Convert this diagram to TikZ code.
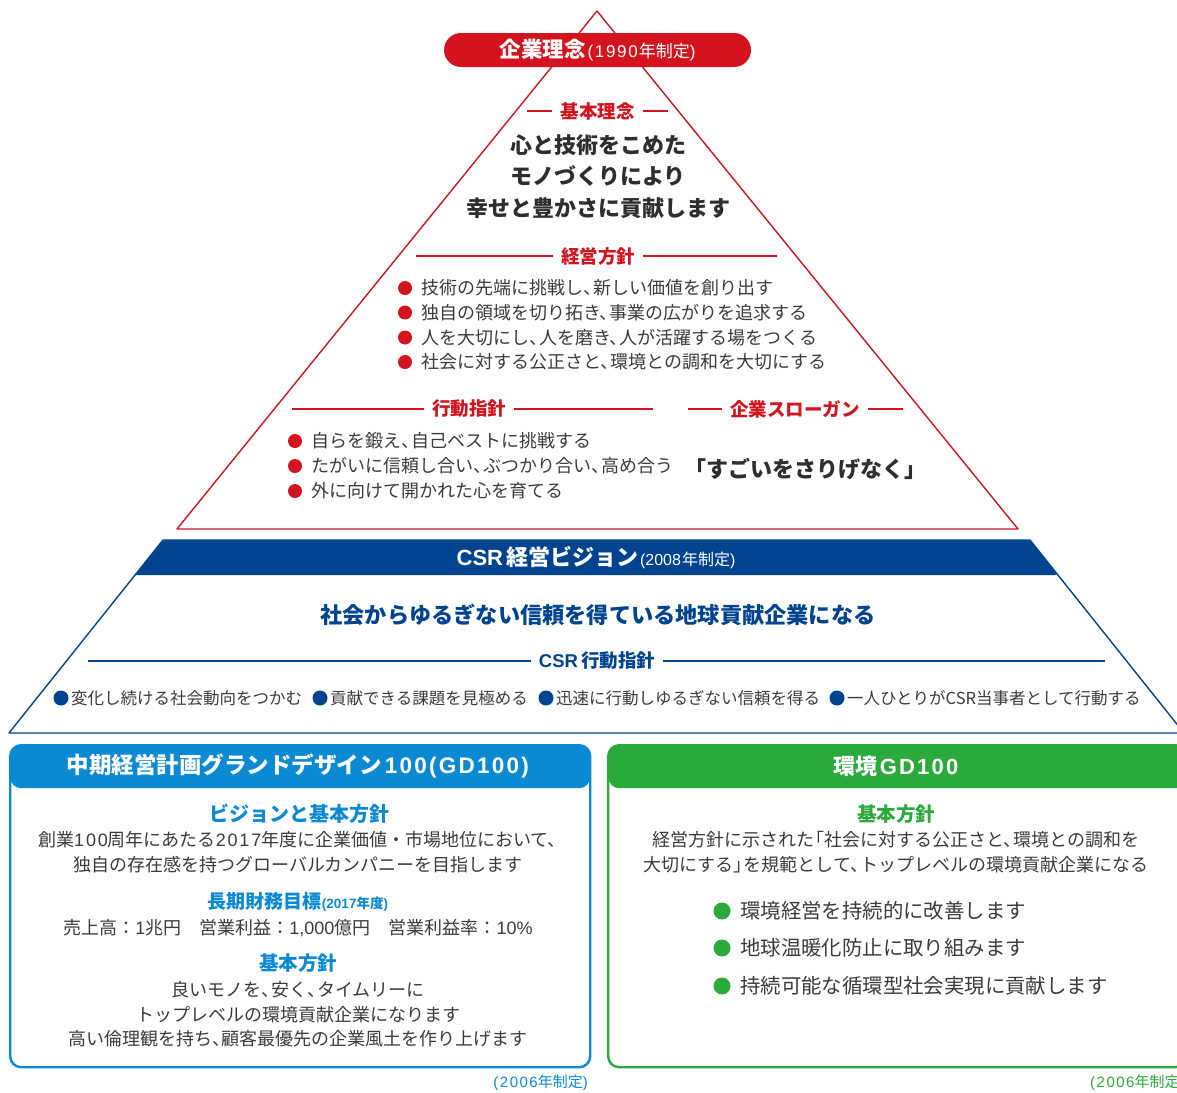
\documentclass[tikz,border=0pt]{standalone}
\usepackage{fontspec}
\setmainfont{Noto Sans CJK JP}
\newfontfamily\latf{Liberation Sans}
\newfontfamily\latw{Liberation Sans}[LetterSpace=10]
\newcommand{\ltn}[1]{{\latf #1}}
\newcommand{\ltw}[1]{{\latw #1}}
\definecolor{cred}{HTML}{D3141E}
\definecolor{ctext}{HTML}{3A3A3A}
\definecolor{cdark}{HTML}{2E2E2E}
\definecolor{cblue}{HTML}{00438F}
\definecolor{clblue}{HTML}{0A8AD2}
\definecolor{cgreen}{HTML}{2AAA3B}
\newcommand{\fsz}[1]{\fontsize{#1}{#1}\selectfont}
\newcommand{\tc}{、\kern-0.45em}
\newcommand{\jlq}{\kern-0.45em「}
\newcommand{\jrq}{」\kern-0.45em}
\tikzset{
  txt/.style={inner sep=0pt, text=ctext, font=\fsz{18}},
  main/.style={inner sep=0pt, text=cdark, font=\bfseries\fsz{22}},
  redhd/.style={inner ysep=0pt, inner xsep=8pt, text=cred, font=\bfseries\fsz{18.5}},
  bluehd/.style={inner ysep=0pt, inner xsep=8pt, text=cblue, font=\bfseries\fsz{18.5}},
  redrule/.style={draw=cred, line width=1.1pt},
  bluerule/.style={draw=cblue, line width=1.1pt},
  rdot/.style={circle, fill=cred, inner sep=0pt, minimum size=14pt},
  bdot/.style={circle, fill=cblue, inner sep=0pt, minimum size=15pt},
  gdot/.style={circle, fill=cgreen, inner sep=0pt, minimum size=17pt},
  btxt/.style={inner sep=0pt, text=ctext, font=\fsz{18}},
  ltitle/.style={inner sep=0pt, text=clblue, font=\bfseries\fsz{20}},
  gtitle/.style={inner sep=0pt, text=cgreen, font=\bfseries\fsz{20}},
}
\begin{document}
\begin{tikzpicture}[x=1pt,y=-1pt]
\useasboundingbox (0,0) rectangle (1177,1092);
\begin{scope}
\clip (0,0) rectangle (1177,1092);
% ---------- red triangle ----------
\coordinate (A) at (597,11);
\coordinate (TL) at (177,529);
\coordinate (TR) at (1018,529);
\draw[cred, line width=1.4pt, line join=round] (A) -- (TR) -- (TL) -- cycle;
\node[fill=cred, rounded corners=17pt, minimum width=307pt, minimum height=34pt, inner sep=0pt, text=white] (pill) at (597.5,50)
  {{\bfseries\fsz{21.5}企業理念}\kern2pt{\fsz{17}\ltw{(1990}\kern1pt 年制定\ltn{)}}};
% 基本理念
\node[redhd] (kihon) at (597.5,111) {基本理念};
\coordinate (k1) at (527,111); \coordinate (k2) at (668,111);
\draw[redrule] (k1) -- (kihon.west); \draw[redrule] (kihon.east) -- (k2);
\node[main] (m1) at (598,145) {心と技術をこめた};
\node[main] (m2) at (598,176.5) {モノづくりにより};
\node[main] (m3) at (598,208) {幸せと豊かさに貢献します};
% 経営方針
\node[redhd] (keiei) at (598,256) {経営方針};
\coordinate (e1) at (416,256); \coordinate (e2) at (777,256);
\draw[redrule] (e1) -- (keiei.west); \draw[redrule] (keiei.east) -- (e2);
\node[rdot] (d1) at (405,288) {};
\node[rdot] (d2) at (405,312.5) {};
\node[rdot] (d3) at (405,337.5) {};
\node[rdot] (d4) at (405,362) {};
\node[txt, anchor=west] (t1) at (421,288) {技術の先端に挑戦し\tc 新しい価値を創り出す};
\node[txt, anchor=west] (t2) at (421,312.5) {独自の領域を切り拓き\tc 事業の広がりを追求する};
\node[txt, anchor=west] (t3) at (421,337.5) {人を大切にし\tc 人を磨き\tc 人が活躍する場をつくる};
\node[txt, anchor=west] (t4) at (421,362) {社会に対する公正さと\tc 環境との調和を大切にする};
% 行動指針
\node[redhd] (kodo) at (469,409) {行動指針};
\coordinate (g1) at (292,409); \coordinate (g2) at (653,409);
\draw[redrule] (g1) -- (kodo.west); \draw[redrule] (kodo.east) -- (g2);
\node[rdot] (d5) at (295,441) {};
\node[rdot] (d6) at (295,466) {};
\node[rdot] (d7) at (295,491) {};
\node[txt, anchor=west] (t5) at (311,441) {自らを鍛え\tc 自己ベストに挑戦する};
\node[txt, anchor=west] (t6) at (311,466) {たがいに信頼し合い\tc ぶつかり合い\tc 高め合う};
\node[txt, anchor=west] (t7) at (311,491) {外に向けて開かれた心を育てる};
% 企業スローガン
\node[redhd] (slog) at (795,409) {企業スローガン};
\coordinate (s1) at (688,409); \coordinate (s2) at (903,409);
\draw[redrule] (s1) -- (slog.west); \draw[redrule] (slog.east) -- (s2);
\node[main] (slogan) at (805,469) {\jlq すごいをさりげなく\jrq};
% ---------- blue trapezoid ----------
\coordinate (BTL) at (163,540);
\coordinate (BTR) at (1030,540);
\coordinate (BBR) at (1184,733);
\coordinate (BBL) at (9,733);
\draw[cblue, line width=1.4pt, line join=round] (BTL) -- (BTR) -- (BBR) -- (BBL) -- cycle;
\fill[cblue, rounded corners=3pt] (135,575) -- (BTL) -- (BTR) -- (1058,575) [sharp corners] -- cycle;
\node[inner sep=0pt, text=white] (csrv) at (596,558)
  {{\bfseries\fsz{22}\ltn{CSR}\kern3pt 経営ビジョン}\kern2pt{\fsz{16}\ltn{(2008}\kern1pt 年制定\ltn{)}}};
\node[inner sep=0pt, text=cblue, font=\bfseries\fsz{22.2}] (vis) at (598,615) {社会からゆるぎない信頼を得ている地球貢献企業になる};
\node[bluehd] (csrk) at (597,661) {\ltn{CSR}\kern3pt 行動指針};
\coordinate (c1) at (88,661); \coordinate (c2) at (1105,661);
\draw[bluerule] (c1) -- (csrk.west); \draw[bluerule] (csrk.east) -- (c2);
\node[bdot] (cd1) at (61,698) {};
\node[bdot] (cd2) at (320,698) {};
\node[bdot] (cd3) at (546,698) {};
\node[bdot] (cd4) at (837,698) {};
\node[txt, font=\fsz{16.5}, anchor=west] (ct1) at (71,698) {変化し続ける社会動向をつかむ};
\node[txt, font=\fsz{16.5}, anchor=west] (ct2) at (330,698) {貢献できる課題を見極める};
\node[txt, font=\fsz{16.5}, anchor=west] (ct3) at (556,698) {迅速に行動しゆるぎない信頼を得る};
\node[txt, font=\fsz{16.5}, anchor=west] (ct4) at (847,698) {一人ひとりがCSR当事者として行動する};
% ---------- left box ----------
\node[draw=clblue, line width=2.4pt, rounded corners=11pt, minimum width=580pt, minimum height=322pt, inner sep=0pt, anchor=north west,
  path picture={\fill[clblue] (path picture bounding box.north west) rectangle ([yshift=-43pt]path picture bounding box.north east);}] (lbox) at (9,744) {};
\node[inner sep=0pt, text=white, font=\bfseries\fsz{22.5}] (lhead) at (298,766) {中期経営計画グランドデザイン\kern3pt\ltw{100(GD100)}};
\node[ltitle] (lt1) at (299,814) {ビジョンと基本方針};
\node[btxt] (lb1) at (298,840) {創業\ltw{100}周年にあたる\ltw{2017}年度に企業価値・市場地位において\tc};
\node[btxt] (lb2) at (298,865) {独自の存在感を持つグローバルカンパニーを目指します};
\node[ltitle, font=\bfseries\fsz{19}] (lt2) at (298,902) {長期財務目標{\fsz{13.5}\ltn{(2017}年度\ltn{)}}};
\node[btxt] (lb3) at (298,928) {売上高：\ltn{1}兆円　営業利益：\ltn{1,000}億円　営業利益率：\ltn{10\%}};
\node[ltitle, font=\bfseries\fsz{19.5}] (lt3) at (298,963) {基本方針};
\node[btxt] (lb4) at (298,990) {良いモノを\tc 安く\tc タイムリーに};
\node[btxt] (lb5) at (298,1014.5) {トップレベルの環境貢献企業になります};
\node[btxt] (lb6) at (298,1039) {高い倫理観を持ち\tc 顧客最優先の企業風土を作り上げます};
\node[inner sep=0pt, text=clblue, font=\fsz{15}, anchor=east] (ly) at (588,1083) {\ltw{(2006}年制定\ltn{)}};
% ---------- right box ----------
\node[draw=cgreen, line width=2.4pt, rounded corners=11pt, minimum width=578pt, minimum height=322pt, inner sep=0pt, anchor=north west,
  path picture={\fill[cgreen] (path picture bounding box.north west) rectangle ([yshift=-43pt]path picture bounding box.north east);}] (rbox) at (607,744) {};
\node[inner sep=0pt, text=white, font=\bfseries\fsz{22}] (rhead) at (896,766) {環境\kern2pt\ltw{GD100}};
\node[gtitle, font=\bfseries\fsz{19.5}] (rt1) at (896,814) {基本方針};
\node[btxt] (rb1) at (896,840) {経営方針に示された\jlq 社会に対する公正さと\tc 環境との調和を};
\node[btxt] (rb2) at (896,865) {大切にする\jrq を規範として\tc トップレベルの環境貢献企業になる};
\node[gdot] (gd1) at (722,911) {};
\node[gdot] (gd2) at (722,948) {};
\node[gdot] (gd3) at (722,986) {};
\node[btxt, font=\fsz{20.4}, anchor=west] (rg1) at (740,911) {環境経営を持続的に改善します};
\node[btxt, font=\fsz{20.4}, anchor=west] (rg2) at (740,948) {地球温暖化防止に取り組みます};
\node[btxt, font=\fsz{20.4}, anchor=west] (rg3) at (740,986) {持続可能な循環型社会実現に貢献します};
\node[inner sep=0pt, text=cgreen, font=\fsz{15}, anchor=west] (ry) at (1090,1083) {\ltw{(2006}年制定\ltn{)}};
\end{scope}
\end{tikzpicture}
\end{document}
